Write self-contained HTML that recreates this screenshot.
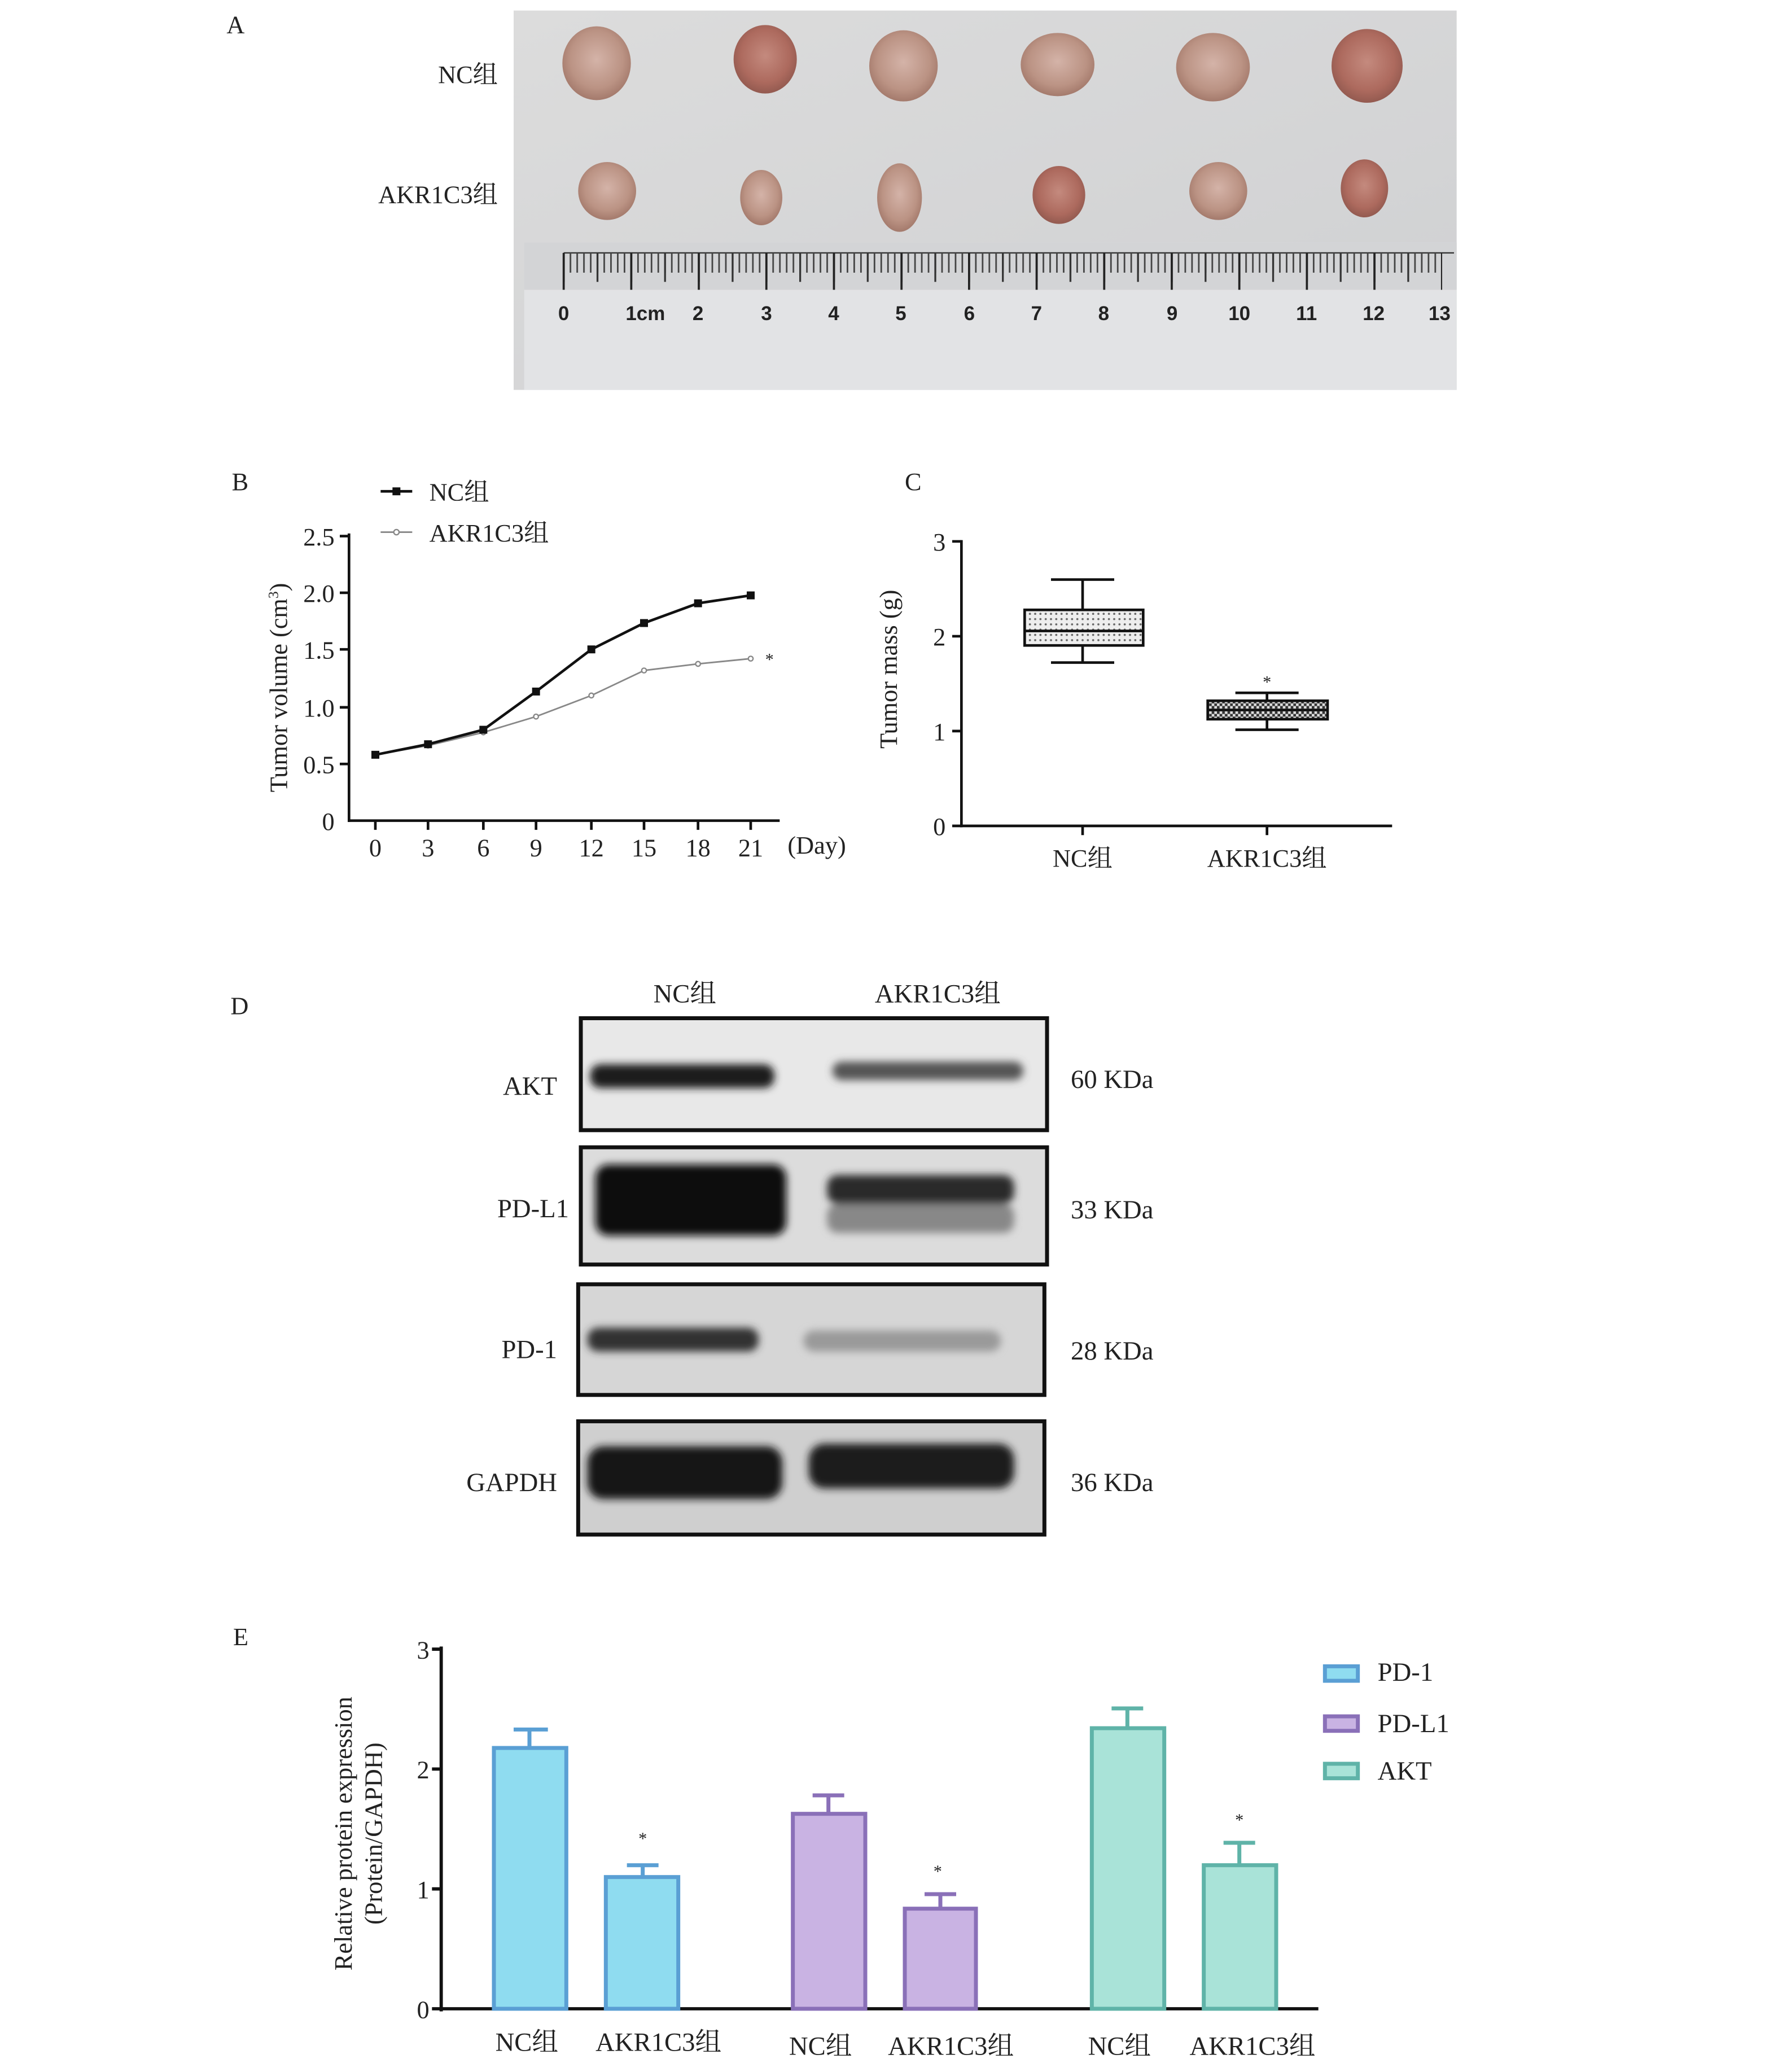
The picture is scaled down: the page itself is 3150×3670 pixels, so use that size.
<!DOCTYPE html>
<html><head><meta charset="utf-8"><style>html,body{margin:0;padding:0;background:#fff}svg{display:block}text{font-family:"Liberation Serif","Noto Serif CJK SC",serif;fill:#222}</style></head><body>
<svg width="3150" height="3670" viewBox="0 0 1350 1573" preserveAspectRatio="none" xmlns="http://www.w3.org/2000/svg">
<defs>
<radialGradient id="tm" cx="50%" cy="45%" r="55%"><stop offset="0" stop-color="#d4b3a8"/><stop offset="0.7" stop-color="#bb9384"/><stop offset="1" stop-color="#a47a6c"/></radialGradient>
<radialGradient id="tr" cx="50%" cy="45%" r="55%"><stop offset="0" stop-color="#c48a7e"/><stop offset="0.7" stop-color="#ad6a5e"/><stop offset="1" stop-color="#935a50"/></radialGradient>
<linearGradient id="bg" x1="0" y1="0" x2="1" y2="1"><stop offset="0" stop-color="#dcdcdc"/><stop offset="1" stop-color="#cfd0d2"/></linearGradient>
<pattern id="dots" width="4" height="4" patternUnits="userSpaceOnUse"><rect width="4" height="4" fill="#eee"/><circle cx="2" cy="2" r="0.8" fill="#666"/></pattern>
<pattern id="chk" width="4" height="4" patternUnits="userSpaceOnUse"><rect width="4" height="4" fill="#ddd"/><rect width="2" height="2" fill="#333"/><rect x="2" y="2" width="2" height="2" fill="#333"/></pattern>
<pattern id="t1" x="427.4" y="0" width="5.13" height="400" patternUnits="userSpaceOnUse"><rect x="0" y="0" width="1.2" height="400" fill="#444"/></pattern>
<pattern id="t5" x="427.3" y="0" width="25.65" height="400" patternUnits="userSpaceOnUse"><rect x="0" y="0" width="1.4" height="400" fill="#333"/></pattern>
<pattern id="t10" x="427.2" y="0" width="51.3" height="400" patternUnits="userSpaceOnUse"><rect x="0" y="0" width="1.6" height="400" fill="#222"/></pattern>
<filter id="bl"><feGaussianBlur stdDeviation="3"/></filter>
</defs>
<!-- A -->
<text x="172" y="25" font-size="19">A</text>
<text x="378" y="63" font-size="19" text-anchor="end">NC组</text>
<text x="378" y="154" font-size="19" text-anchor="end">AKR1C3组</text>
<rect x="390" y="8" width="716" height="288" fill="url(#bg)"/>
<rect x="398" y="184" width="708" height="112" fill="#e2e3e5"/>
<rect x="398" y="184" width="708" height="36" fill="#d3d4d6"/>
<g fill="url(#tm)">
<ellipse cx="453" cy="48" rx="26" ry="28"/><ellipse cx="581" cy="45" rx="24" ry="26" fill="url(#tr)"/><ellipse cx="686" cy="50" rx="26" ry="27"/><ellipse cx="803" cy="49" rx="28" ry="24"/><ellipse cx="921" cy="51" rx="28" ry="26"/><ellipse cx="1038" cy="50" rx="27" ry="28" fill="url(#tr)"/>
<ellipse cx="461" cy="145" rx="22" ry="22"/><ellipse cx="578" cy="150" rx="16" ry="21"/><ellipse cx="683" cy="150" rx="17" ry="26"/><ellipse cx="804" cy="148" rx="20" ry="22" fill="url(#tr)"/><ellipse cx="925" cy="145" rx="22" ry="22"/><ellipse cx="1036" cy="143" rx="18" ry="22" fill="url(#tr)"/>
</g>
<line x1="428" y1="192" x2="1104" y2="192" stroke="#333" stroke-width="1"/>
<rect x="427" y="192" width="668" height="15" fill="url(#t1)"/>
<rect x="427" y="192" width="668" height="22" fill="url(#t5)"/>
<rect x="427" y="192" width="668" height="28" fill="url(#t10)"/>
<g font-size="15" font-weight="bold" text-anchor="middle">
<text x="428" y="243" style="font-family:'Liberation Sans'">0</text><text x="490" y="243" style="font-family:'Liberation Sans'">1cm</text><text x="530" y="243" style="font-family:'Liberation Sans'">2</text><text x="582" y="243" style="font-family:'Liberation Sans'">3</text><text x="633" y="243" style="font-family:'Liberation Sans'">4</text><text x="684" y="243" style="font-family:'Liberation Sans'">5</text><text x="736" y="243" style="font-family:'Liberation Sans'">6</text><text x="787" y="243" style="font-family:'Liberation Sans'">7</text><text x="838" y="243" style="font-family:'Liberation Sans'">8</text><text x="890" y="243" style="font-family:'Liberation Sans'">9</text><text x="941" y="243" style="font-family:'Liberation Sans'">10</text><text x="992" y="243" style="font-family:'Liberation Sans'">11</text><text x="1043" y="243" style="font-family:'Liberation Sans'">12</text><text x="1093" y="243" style="font-family:'Liberation Sans'">13</text>
</g>
<!-- B -->
<text x="176" y="372" font-size="19">B</text>
<line x1="289" y1="373" x2="313" y2="373" stroke="#111" stroke-width="2"/><rect x="298" y="370" width="6" height="6" fill="#111"/>
<text x="326" y="380" font-size="19">NC组</text>
<line x1="289" y1="404" x2="313" y2="404" stroke="#888" stroke-width="1.2"/><circle cx="301" cy="404" r="2" fill="#fff" stroke="#888"/>
<text x="326" y="411" font-size="19">AKR1C3组</text>
<g stroke="#111" stroke-width="2" fill="none"><line x1="265" y1="405" x2="265" y2="624"/><line x1="264" y1="623" x2="592" y2="623"/></g>
<g stroke="#111" stroke-width="2">
<line x1="258" y1="407" x2="265" y2="407"/><line x1="258" y1="450" x2="265" y2="450"/><line x1="258" y1="493" x2="265" y2="493"/><line x1="258" y1="537" x2="265" y2="537"/><line x1="258" y1="580" x2="265" y2="580"/>
<line x1="285" y1="623" x2="285" y2="630"/><line x1="325" y1="623" x2="325" y2="630"/><line x1="367" y1="623" x2="367" y2="630"/><line x1="407" y1="623" x2="407" y2="630"/><line x1="449" y1="623" x2="449" y2="630"/><line x1="489" y1="623" x2="489" y2="630"/><line x1="530" y1="623" x2="530" y2="630"/><line x1="570" y1="623" x2="570" y2="630"/>
</g>
<g font-size="19" text-anchor="end"><text x="254" y="414">2.5</text><text x="254" y="457">2.0</text><text x="254" y="500">1.5</text><text x="254" y="544">1.0</text><text x="254" y="587">0.5</text><text x="254" y="630">0</text></g>
<g font-size="19" text-anchor="middle"><text x="285" y="650">0</text><text x="325" y="650">3</text><text x="367" y="650">6</text><text x="407" y="650">9</text><text x="449" y="650">12</text><text x="489" y="650">15</text><text x="530" y="650">18</text><text x="570" y="650">21</text></g>
<text x="598" y="648" font-size="19">(Day)</text>
<text transform="translate(218,522) rotate(-90)" font-size="19" text-anchor="middle">Tumor volume (cm<tspan font-size="11" dy="-7">3</tspan><tspan dy="7">)</tspan></text>
<polyline fill="none" stroke="#888" stroke-width="1.2" points="285,573 325,566 367,556 407,544 449,528 489,509 530,504 570,500"/>
<g fill="#fff" stroke="#888"><circle cx="325" cy="566" r="1.8"/><circle cx="367" cy="556" r="1.8"/><circle cx="407" cy="544" r="1.8"/><circle cx="449" cy="528" r="1.8"/><circle cx="489" cy="509" r="1.8"/><circle cx="530" cy="504" r="1.8"/><circle cx="570" cy="500" r="1.8"/></g>
<polyline fill="none" stroke="#111" stroke-width="2" points="285,573 325,565 367,554 407,525 449,493 489,473 530,458 570,452"/>
<g fill="#111"><rect x="282" y="570" width="6" height="6"/><rect x="322" y="562" width="6" height="6"/><rect x="364" y="551" width="6" height="6"/><rect x="404" y="522" width="6" height="6"/><rect x="446" y="490" width="6" height="6"/><rect x="486" y="470" width="6" height="6"/><rect x="527" y="455" width="6" height="6"/><rect x="567" y="449" width="6" height="6"/></g>
<text x="581" y="505" font-size="13">*</text>
<!-- C -->
<text x="687" y="372" font-size="19">C</text>
<g stroke="#111" stroke-width="2"><line x1="730" y1="410" x2="730" y2="628"/><line x1="729" y1="627" x2="1057" y2="627"/>
<line x1="723" y1="411" x2="730" y2="411"/><line x1="723" y1="483" x2="730" y2="483"/><line x1="723" y1="555" x2="730" y2="555"/><line x1="723" y1="627" x2="730" y2="627"/>
<line x1="822" y1="627" x2="822" y2="634"/><line x1="962" y1="627" x2="962" y2="634"/></g>
<g font-size="19" text-anchor="end"><text x="718" y="418">3</text><text x="718" y="490">2</text><text x="718" y="562">1</text><text x="718" y="634">0</text></g>
<text transform="translate(681,508) rotate(-90)" font-size="19" text-anchor="middle">Tumor mass (g)</text>
<g font-size="19" text-anchor="middle"><text x="822" y="658">NC组</text><text x="962" y="658">AKR1C3组</text></g>
<g stroke="#111" stroke-width="2">
<line x1="822" y1="440" x2="822" y2="463"/><line x1="798" y1="440" x2="846" y2="440"/><line x1="822" y1="490" x2="822" y2="503"/><line x1="798" y1="503" x2="846" y2="503"/>
<rect x="778" y="463" width="90" height="27" fill="url(#dots)"/><line x1="778" y1="479" x2="868" y2="479"/>
<line x1="962" y1="526" x2="962" y2="532"/><line x1="938" y1="526" x2="986" y2="526"/><line x1="962" y1="546" x2="962" y2="554"/><line x1="938" y1="554" x2="986" y2="554"/>
<rect x="917" y="532" width="91" height="14" fill="url(#chk)"/><line x1="917" y1="539" x2="1008" y2="539"/>
</g>
<text x="962" y="522" font-size="13" text-anchor="middle">*</text>
<!-- D -->
<text x="175" y="770" font-size="19">D</text>
<g font-size="20" text-anchor="middle"><text x="520" y="761">NC组</text><text x="712" y="761">AKR1C3组</text></g>
<g font-size="20" text-anchor="end"><text x="423" y="831">AKT</text><text x="432" y="924">PD-L1</text><text x="423" y="1031">PD-1</text><text x="423" y="1132">GAPDH</text></g>
<g font-size="20"><text x="813" y="826">60 KDa</text><text x="813" y="925">33 KDa</text><text x="813" y="1032">28 KDa</text><text x="813" y="1132">36 KDa</text></g>
<g stroke="#111" stroke-width="3">
<rect x="441" y="773" width="354" height="85" fill="#e8e8e8"/>
<rect x="441" y="871" width="354" height="89" fill="#dcdcdc"/>
<rect x="439" y="975" width="354" height="84" fill="#d6d6d6"/>
<rect x="439" y="1079" width="354" height="86" fill="#cfcfcf"/>
</g>
<g filter="url(#bl)">
<rect x="448" y="808" width="140" height="18" rx="8" fill="#1a1a1a"/><rect x="632" y="806" width="145" height="14" rx="7" fill="#555"/>
<rect x="452" y="884" width="145" height="54" rx="10" fill="#111"/><rect x="628" y="892" width="142" height="22" rx="8" fill="#2a2a2a"/><rect x="628" y="914" width="142" height="22" rx="8" fill="#888"/>
<rect x="446" y="1008" width="130" height="18" rx="8" fill="#333"/><rect x="610" y="1010" width="150" height="16" rx="8" fill="#9a9a9a"/>
<rect x="446" y="1098" width="148" height="40" rx="12" fill="#151515"/><rect x="614" y="1096" width="156" height="34" rx="12" fill="#1a1a1a"/>
</g>
<!-- E -->
<text x="177" y="1249" font-size="19">E</text>
<g stroke="#111" stroke-width="2.5"><line x1="335" y1="1250" x2="335" y2="1527"/><line x1="334" y1="1525" x2="1001" y2="1525"/>
<line x1="328" y1="1252" x2="335" y2="1252"/><line x1="328" y1="1343" x2="335" y2="1343"/><line x1="328" y1="1434" x2="335" y2="1434"/><line x1="328" y1="1525" x2="335" y2="1525"/></g>
<g font-size="19" text-anchor="end"><text x="326" y="1259">3</text><text x="326" y="1350">2</text><text x="326" y="1441">1</text><text x="326" y="1532">0</text></g>
<text transform="translate(267,1392) rotate(-90)" font-size="19" text-anchor="middle">Relative protein expression</text>
<text transform="translate(290,1392) rotate(-90)" font-size="19" text-anchor="middle">(Protein/GAPDH)</text>
<g stroke-width="3">
<g stroke="#5a9fd4" fill="#8fdcf0"><rect x="375" y="1327" width="55" height="198"/><rect x="460" y="1425" width="55" height="100"/><line x1="402" y1="1327" x2="402" y2="1313"/><line x1="390" y1="1313" x2="416" y2="1313"/><line x1="488" y1="1425" x2="488" y2="1416"/><line x1="476" y1="1416" x2="500" y2="1416"/></g>
<g stroke="#8a70b8" fill="#c9b3e3"><rect x="602" y="1377" width="55" height="148"/><rect x="687" y="1449" width="54" height="76"/><line x1="629" y1="1377" x2="629" y2="1363"/><line x1="617" y1="1363" x2="641" y2="1363"/><line x1="714" y1="1449" x2="714" y2="1438"/><line x1="702" y1="1438" x2="726" y2="1438"/></g>
<g stroke="#5fb3a8" fill="#a9e3d8"><rect x="829" y="1312" width="55" height="213"/><rect x="914" y="1416" width="55" height="109"/><line x1="856" y1="1312" x2="856" y2="1297"/><line x1="844" y1="1297" x2="868" y2="1297"/><line x1="941" y1="1416" x2="941" y2="1399"/><line x1="929" y1="1399" x2="953" y2="1399"/></g>
</g>
<g font-size="13" text-anchor="middle"><text x="488" y="1400">*</text><text x="712" y="1425">*</text><text x="941" y="1386">*</text></g>
<g font-size="20" text-anchor="middle"><text x="400" y="1557">NC组</text><text x="500" y="1557">AKR1C3组</text><text x="623" y="1560">NC组</text><text x="722" y="1560">AKR1C3组</text><text x="850" y="1560">NC组</text><text x="951" y="1560">AKR1C3组</text></g>
<g stroke-width="3"><rect x="1006" y="1265" width="25" height="11" fill="#8fdcf0" stroke="#5a9fd4"/><rect x="1006" y="1303" width="25" height="11" fill="#c9b3e3" stroke="#8a70b8"/><rect x="1006" y="1339" width="25" height="11" fill="#a9e3d8" stroke="#5fb3a8"/></g>
<g font-size="20"><text x="1046" y="1276">PD-1</text><text x="1046" y="1315">PD-L1</text><text x="1046" y="1351">AKT</text></g>
</svg>
</body></html>
